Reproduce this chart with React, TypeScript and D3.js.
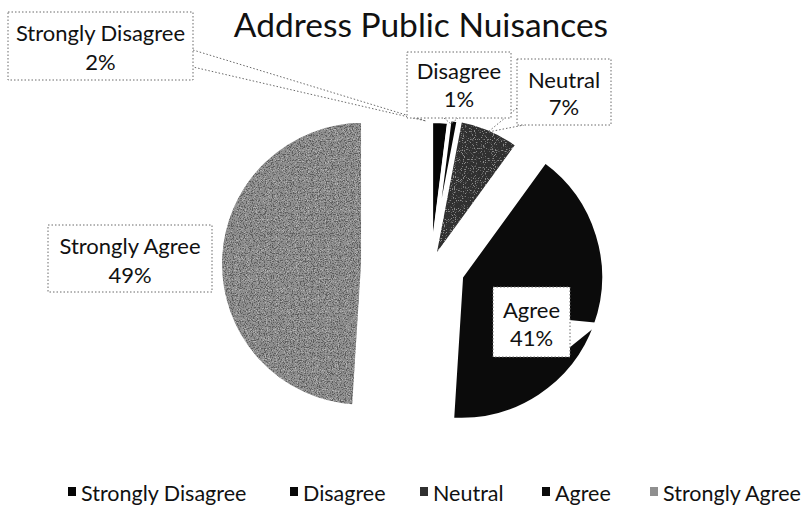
import React from "react";
import * as d3 from "d3";

const categories = ["Strongly Disagree", "Disagree", "Neutral", "Agree", "Strongly Agree"];
const values = [2, 1, 7, 41, 49];
const title = "Address Public Nuisances";

// styles
const colors = ["#050505", "#080808", "#303030", "#0b0b0b", "#8f8f8f"];
const explode = [2, 5, 6, 32, 68];
const legendX = [68, 290, 420, 542, 650];

// label box layout: [x, y, w, h, line1 baseline offset, line2 baseline offset]
const labelBoxes: [number, number, number, number, number, number][] = [
  [8, 12, 185, 68, 28.5, 58],
  [407, 52, 104, 66, 27, 55],
  [517, 59, 94, 66, 28.5, 56],
  [493, 287, 77, 70, 30.5, 59],
  [48, 225, 164, 67, 28.5, 58],
];

const W = 806;
const H = 508;
const cx = 431;
const cy = 266;
const R = 143;
const FONT = "Lato, 'Open Sans', sans-serif";
const FS = 22;

export default function App() {
  const pie = d3.pie<number>().sort(null).value((d) => d);
  const arcs = pie(values);
  const arc = d3.arc<d3.PieArcDatum<number>>().innerRadius(0).outerRadius(R);

  const off = arcs.map((a, i) => {
    const mid = (a.startAngle + a.endAngle) / 2;
    return [explode[i] * Math.sin(mid), -explode[i] * Math.cos(mid)];
  });

  const dash = { stroke: "#6a6a6a", strokeWidth: 1, strokeDasharray: "1.5,2", fill: "none" };

  // callout pointers
  const pointers: string[] = [
    "M193,50 L426,121 L193,67",
    "M444,118 L451,124 L458,118",
    "M517,108 L488,132 L524,125",
  ];

  return (
    <svg width={W} height={H} style={{ position: "absolute", left: 0, top: 0, background: "#fff" }}>
      <defs>
        <filter id="speckleDark" x="0" y="0" width="100%" height="100%">
          <feTurbulence type="fractalNoise" baseFrequency="0.85" numOctaves={1} seed={3} result="n" />
          <feColorMatrix in="n" type="matrix" values="0 0 0 0 0  0 0 0 0 0  0 0 0 0 0  0 0 0 9 -4.6" result="m" />
          <feComposite in="m" in2="SourceGraphic" operator="in" />
        </filter>
        <filter id="speckleLight" x="0" y="0" width="100%" height="100%">
          <feTurbulence type="fractalNoise" baseFrequency="0.9" numOctaves={1} seed={7} result="n" />
          <feColorMatrix in="n" type="matrix" values="0 0 0 0 1  0 0 0 0 1  0 0 0 0 1  0 0 0 9 -5.2" result="m" />
          <feComposite in="m" in2="SourceGraphic" operator="in" />
        </filter>
      </defs>
      <rect x={0} y={0} width={W} height={H} fill="#fff" />
      <text x={421} y={37} textAnchor="middle" fontFamily={FONT} fontSize={33.5} fill="#111">
        {title}
      </text>

      <g>
        {arcs.map((a, i) => {
          const t = `translate(${cx + off[i][0]},${cy + off[i][1]})`;
          const d = arc(a) || "";
          return (
            <g key={categories[i]} transform={t}>
              <path d={d} fill={colors[i]} />
              {i === 4 && <path d={d} fill="#000" filter="url(#speckleDark)" opacity={0.35} />}
              {i === 4 && <path d={d} fill="#fff" filter="url(#speckleLight)" opacity={0.35} />}
              {i === 2 && <path d={d} fill="#fff" filter="url(#speckleLight)" opacity={0.45} />}
              <path d={d} fill="none" stroke="#fff" strokeWidth={4} strokeLinejoin="round" />
            </g>
          );
        })}
      </g>

      {pointers.map((p, i) => (
        <path key={i} d={p} {...dash} />
      ))}

      {/* Agree callout white pointer */}
      <path d="M569,320 L600,323 L569,348 Z" fill="#fff" />

      {labelBoxes.map((b, i) => {
        const [x, y, w, h, b1, b2] = b;
        return (
          <g key={categories[i]}>
            <rect x={x} y={y} width={w} height={h} fill="#fff" {...{ stroke: "#6a6a6a", strokeWidth: 1, strokeDasharray: "1.5,2" }} />
            <text x={x + w / 2} y={y + b1} textAnchor="middle" fontFamily={FONT} fontSize={FS} fill="#111">
              {categories[i]}
            </text>
            <text x={x + w / 2} y={y + b2} textAnchor="middle" fontFamily={FONT} fontSize={FS} fill="#111">
              {`${values[i]}%`}
            </text>
          </g>
        );
      })}

      <g>
        {categories.map((c, i) => (
          <g key={c} transform={`translate(${legendX[i]},501)`}>
            <rect x={0} y={-14} width={8} height={9} fill={colors[i]} />
            <text x={13} y={0} fontFamily={FONT} fontSize={21.5} fill="#111">
              {c}
            </text>
          </g>
        ))}
      </g>
    </svg>
  );
}
